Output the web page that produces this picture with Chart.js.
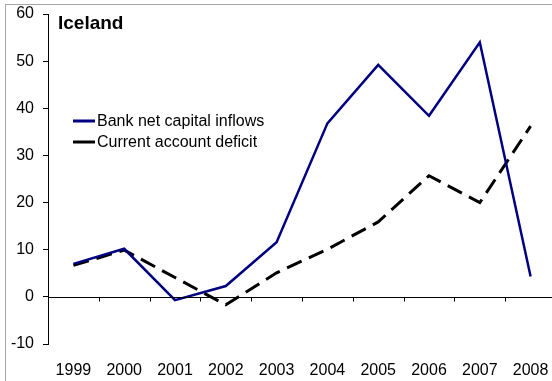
<!DOCTYPE html>
<html>
<head>
<meta charset="utf-8">
<script src="https://cdn.jsdelivr.net/npm/chart.js@4/dist/chart.umd.min.js"></script>
<style>
  html, body { margin: 0; padding: 0; background: #fff; overflow: hidden; }
  #wrap { position: relative; width: 552px; height: 381px; overflow: hidden; }
  #frame { position: absolute; left: 5px; top: 4px; width: 600px; height: 420px; border: 1px solid #a6a6a6; box-sizing: border-box; }
  #myChart { position: absolute; left: 0; top: 0; }
</style>
</head>
<body>
<div id="wrap">
  <div id="frame"></div>
  <canvas id="myChart" width="560" height="381"></canvas>
</div>
<script>
const years = ["1999", "2000", "2001", "2002", "2003", "2004", "2005", "2006", "2007", "2008"];
const bankInflows = [7.0, 10.2, -0.7, 2.3, 11.6, 36.8, 49.2, 38.4, 54.0, 4.3];
const currentDeficit = [6.7, 9.9, 4.1, -1.7, 5.1, 10.1, 15.9, 25.7, 20.0, 36.2];
const yTicks = [-10, 0, 10, 20, 30, 40, 50, 60];
const titulo = "Iceland";

const fuente = "'Liberation Sans', Arial, sans-serif";

// eje en cero, marcas entre categorias, titulo y leyenda dentro del area
const extras = {
  id: "extras",
  afterDraw(chart) {
    const ctx = chart.ctx;
    const x = chart.scales.x;
    const y = chart.scales.y;
    const area = chart.chartArea;
    const y0 = Math.round(y.getPixelForValue(0)) + 0.5;

    ctx.save();
    ctx.strokeStyle = "#000";
    ctx.lineWidth = 1;
    ctx.beginPath();
    ctx.moveTo(area.left, y0);
    ctx.lineTo(area.right, y0);
    for (let i = 0; i < years.length; i++) {
      const px = Math.round((x.getPixelForValue(i) + x.getPixelForValue(i + 1)) / 2) + 0.5;
      ctx.moveTo(px, y0);
      ctx.lineTo(px, y0 + 4);
    }
    ctx.stroke();

    ctx.fillStyle = "#000";
    ctx.font = "bold 19px " + fuente;
    ctx.textBaseline = "alphabetic";
    ctx.fillText(titulo, 58, 29);

    ctx.font = "16px " + fuente;
    ctx.textBaseline = "middle";
    chart.data.datasets.forEach((ds, i) => {
      const ly = 121 + i * 21;
      ctx.strokeStyle = ds.borderColor;
      ctx.lineWidth = 3;
      ctx.beginPath();
      ctx.moveTo(73, ly);
      ctx.lineTo(95, ly);
      ctx.stroke();
      ctx.fillText(ds.label, 97, ly + 1);
    });
    ctx.restore();
  }
};

new Chart(document.getElementById("myChart"), {
  type: "line",
  data: {
    labels: years,
    datasets: [
      {
        label: "Bank net capital inflows",
        data: bankInflows,
        borderColor: "#000080",
        borderWidth: 2.5,
        pointRadius: 0,
        tension: 0,
      },
      {
        label: "Current account deficit",
        data: currentDeficit,
        borderColor: "#000000",
        borderWidth: 3,
        borderDash: [16, 8],
        pointRadius: 0,
        tension: 0,
      },
    ],
  },
  options: {
    responsive: false,
    animation: false,
    layout: { padding: { top: 14, right: 4, left: 0, bottom: 0 } },
    plugins: { legend: { display: false }, tooltip: { enabled: false } },
    scales: {
      x: {
        offset: true,
        grid: { display: false, drawTicks: false },
        border: { display: false },
        ticks: { color: "#000", font: { family: fuente, size: 16 }, padding: 17, maxRotation: 0, autoSkip: false },
        afterFit: (scale) => {
          scale.height = 37;
          scale.paddingLeft = 0;
          scale.paddingRight = 0;
        },
      },
      y: {
        min: -10,
        max: 60,
        afterBuildTicks: (scale) => { scale.ticks = yTicks.map((v) => ({ value: v })); },
        grid: { drawOnChartArea: false, drawTicks: true, tickLength: 5, color: "#000" },
        border: { display: true, color: "#000", width: 1 },
        ticks: { color: "#000", font: { family: fuente, size: 16 }, padding: 9 },
        afterFit: (scale) => {
          scale.width = 48;
          scale.paddingTop = 0;
          scale.paddingBottom = 0;
        },
      },
    },
  },
  plugins: [extras],
});
</script>
</body>
</html>
